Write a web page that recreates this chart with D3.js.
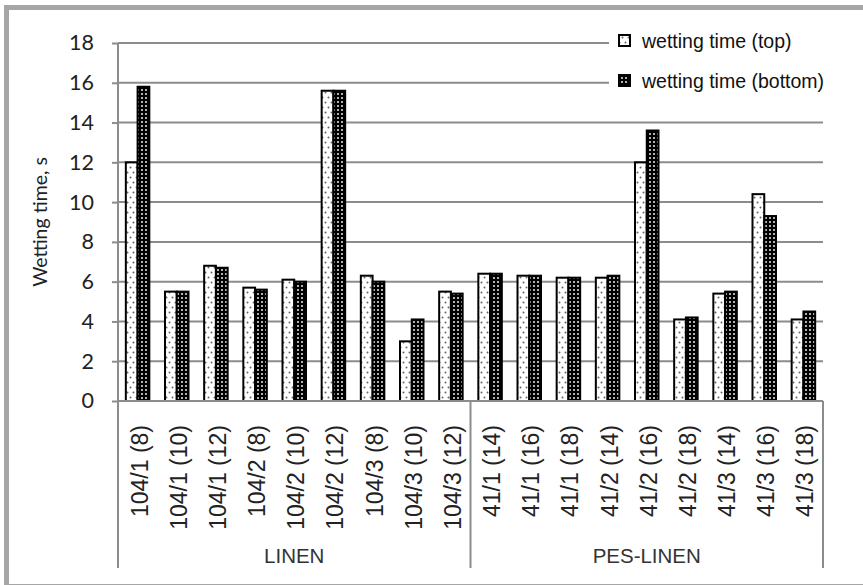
<!DOCTYPE html>
<html>
<head>
<meta charset="utf-8">
<script src="https://cdn.jsdelivr.net/npm/d3@7/dist/d3.min.js"></script>
<style>
  html, body { margin: 0; padding: 0; background: #fff; }
  svg { display: block; }
</style>
</head>
<body>
<svg id="chart" width="863" height="585"></svg>
<script>
const categories = ["104/1 (8)", "104/1 (10)", "104/1 (12)", "104/2 (8)", "104/2 (10)", "104/2 (12)", "104/3 (8)", "104/3 (10)", "104/3 (12)",
                    "41/1 (14)", "41/1 (16)", "41/1 (18)", "41/2 (14)", "41/2 (16)", "41/2 (18)", "41/3 (14)", "41/3 (16)", "41/3 (18)"];
const groupNames = ["LINEN", "PES-LINEN"];
const groupSizes = [9, 9];
const seriesNames = ["wetting time (top)", "wetting time (bottom)"];
const topValues = [12.0, 5.5, 6.8, 5.7, 6.1, 15.6, 6.3, 3.0, 5.5, 6.4, 6.3, 6.2, 6.2, 12.0, 4.1, 5.4, 10.4, 4.1];
const bottomValues = [15.8, 5.5, 6.7, 5.6, 6.0, 15.6, 6.0, 4.1, 5.4, 6.4, 6.3, 6.2, 6.3, 13.6, 4.2, 5.5, 9.3, 4.5];
const yTicks = [0, 2, 4, 6, 8, 10, 12, 14, 16, 18];
const yTitle = "Wetting time, s";

(function () {
const svg = d3.select("#chart");
const pLeft = 118, pRight = 823, pTop = 43, pBottom = 401, sepBottom = 568;
const gridColor = "#8c8c8c";

// patterns
const defs = svg.append("defs");
const patT = defs.append("pattern").attr("id", "patTop").attr("patternUnits", "userSpaceOnUse")
  .attr("width", 6).attr("height", 10);
patT.append("rect").attr("width", 6).attr("height", 10).attr("fill", "#fff");
patT.append("circle").attr("cx", 1.5).attr("cy", 2.5).attr("r", 1).attr("fill", "#666");
patT.append("circle").attr("cx", 4.5).attr("cy", 7.5).attr("r", 1).attr("fill", "#666");
const patB = defs.append("pattern").attr("id", "patBot").attr("patternUnits", "userSpaceOnUse")
  .attr("width", 4).attr("height", 4);
patB.append("rect").attr("width", 4).attr("height", 4).attr("fill", "#000");
patB.append("rect").attr("x", 1).attr("y", 1).attr("width", 2).attr("height", 2).attr("fill", "#b0b0b0");
const fills = ["url(#patTop)", "url(#patBot)"];

// outer frame
svg.append("rect").attr("x", 6.5).attr("y", 7.5).attr("width", 880).attr("height", 579)
  .attr("fill", "none").attr("stroke", "#a6a6a6").attr("stroke-width", 5);

const x = d3.scaleBand().domain(categories).range([pLeft, pRight]).paddingInner(0.4).paddingOuter(0.2);
const xs = d3.scaleBand().domain([0, 1]).range([0, x.bandwidth()]);
const y = d3.scaleLinear().domain([0, 18]).range([pBottom, pTop]);

// gridlines
svg.append("g").selectAll("line").data(yTicks.filter(d => d > 0)).join("line")
  .attr("x1", pLeft).attr("x2", pRight).attr("y1", d => y(d)).attr("y2", d => y(d))
  .attr("stroke", gridColor).attr("stroke-width", 2);

// y axis
const yAxis = svg.append("g").attr("transform", `translate(${pLeft},0)`)
  .call(d3.axisLeft(y).tickValues(yTicks).tickSize(6).tickPadding(18).tickFormat(d3.format("d")));
yAxis.select(".domain").remove();
yAxis.selectAll(".tick line").attr("stroke", gridColor).attr("stroke-width", 2);
yAxis.selectAll(".tick text").attr("font-family", "Lato, 'Open Sans', sans-serif").attr("font-size", 21.5)
  .attr("fill", "#222");

// bars
const data = categories.map((c, i) => ({c, v: [topValues[i], bottomValues[i]]}));
const bars = svg.append("g");
data.forEach(d => {
  d.v.forEach((v, k) => {
    bars.append("rect")
      .attr("x", x(d.c) + xs(k)).attr("y", y(v))
      .attr("width", xs.bandwidth()).attr("height", y(0) - y(v))
      .attr("fill", fills[k]).attr("stroke", "#000").attr("stroke-width", 2);
  });
});

// x axis line and separators
svg.append("line").attr("x1", pLeft).attr("x2", pRight).attr("y1", pBottom).attr("y2", pBottom)
  .attr("stroke", gridColor).attr("stroke-width", 2);
const bounds = [0];
groupSizes.forEach((n, i) => bounds.push(bounds[i] + n));
svg.append("line").attr("x1", pLeft).attr("x2", pLeft).attr("y1", pTop).attr("y2", sepBottom)
  .attr("stroke", gridColor).attr("stroke-width", 2);
svg.append("g").selectAll("line").data(bounds.slice(1)).join("line")
  .attr("x1", d => pLeft + d * x.step()).attr("x2", d => pLeft + d * x.step())
  .attr("y1", pBottom).attr("y2", sepBottom)
  .attr("stroke", gridColor).attr("stroke-width", 2);

// category labels
svg.append("g").selectAll("text").data(categories).join("text")
  .attr("transform", d => `translate(${x(d) + x.bandwidth() / 2 + 2},425) rotate(-90)`)
  .attr("text-anchor", "end").attr("dy", "0.35em")
  .attr("font-family", "'Liberation Sans', Arial, sans-serif").attr("font-size", 23)
  .attr("fill", "#222").text(d => d);

// group labels
svg.append("g").selectAll("text").data(groupNames).join("text")
  .attr("x", (d, i) => pLeft + (bounds[i] + bounds[i + 1]) / 2 * x.step())
  .attr("y", 563).attr("text-anchor", "middle")
  .attr("font-family", "'Liberation Sans', Arial, sans-serif").attr("font-size", 20.5)
  .attr("fill", "#333").text(d => d);

// y title
svg.append("text").attr("transform", `translate(47,222) rotate(-90)`)
  .attr("text-anchor", "middle")
  .attr("font-family", "Lato, 'Open Sans', sans-serif").attr("font-size", 19.5)
  .attr("fill", "#222").text(yTitle);

// legend
const lg = svg.append("g");
lg.append("rect").attr("x", 609).attr("y", 26).attr("width", 240).attr("height", 72).attr("fill", "#fff");
seriesNames.forEach((s, k) => {
  const cy = 41 + k * 40;
  lg.append("rect").attr("x", 619).attr("y", cy - 6).attr("width", 11).attr("height", 11)
    .attr("fill", fills[k]).attr("stroke", "#000").attr("stroke-width", 2);
  lg.append("text").attr("x", 642).attr("y", cy).attr("dy", "0.35em")
    .attr("font-family", "'Liberation Sans', Arial, sans-serif").attr("font-size", 19.5)
    .attr("fill", "#111").text(s);
});
})();
</script>
</body>
</html>
